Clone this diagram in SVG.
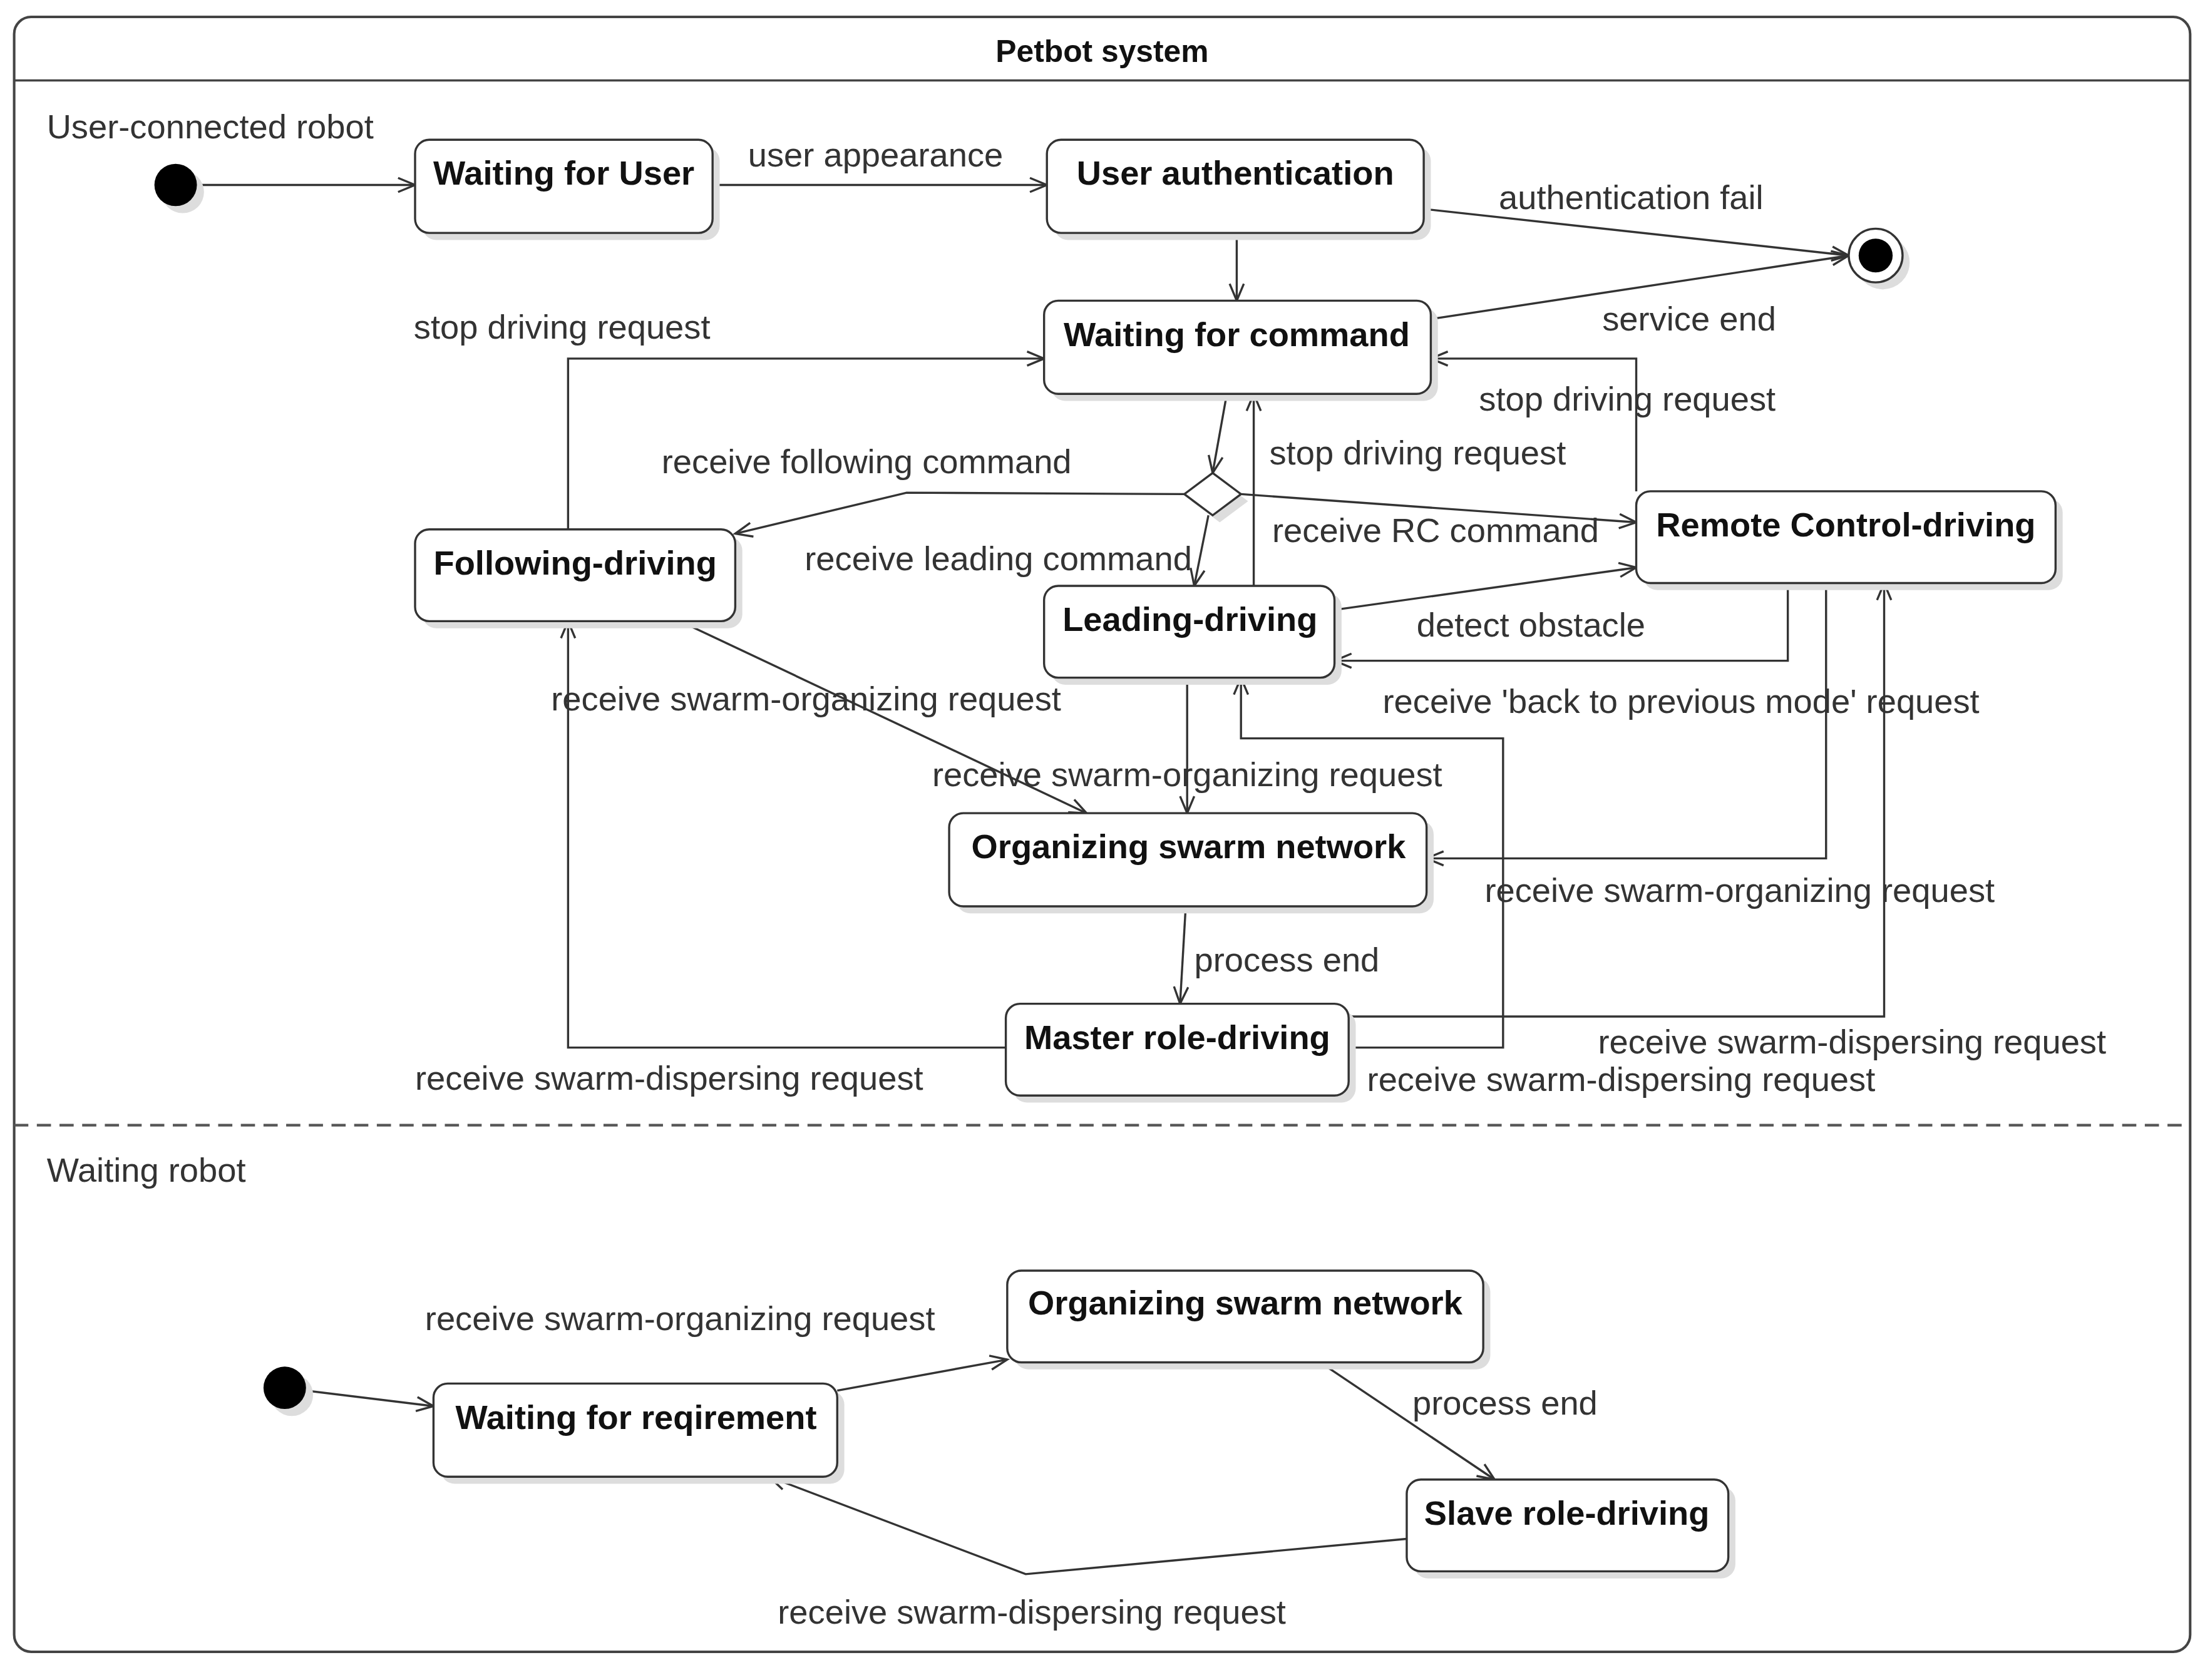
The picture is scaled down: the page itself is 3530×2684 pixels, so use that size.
<svg xmlns="http://www.w3.org/2000/svg" width="3530" height="2684" viewBox="0 0 3530 2684">
<style>
.n{fill:#fff;stroke:#333;stroke-width:1.5}
.sh{fill:#ddd}
.nt{font-family:"Liberation Sans",Arial,sans-serif;font-weight:bold;font-size:24px;fill:#111;text-anchor:middle}
.lb{font-family:"Liberation Sans",Arial,sans-serif;font-size:24px;fill:#333}
.c{fill:none;stroke:#333;stroke-width:1.5;marker-end:url(#a)}
</style>
<defs>
<marker id="a" markerUnits="userSpaceOnUse" markerWidth="16" markerHeight="14" refX="13" refY="6" orient="auto">
<path d="M1,1 L13,6 L1,11" fill="none" stroke="#333" stroke-width="1.5"/>
</marker>
</defs>
<rect width="3530" height="2684" fill="#fff"/>
<g transform="scale(2.2628,2.2555)">
<g id="frame">
<rect x="10" y="12" width="1536" height="1158" rx="12" fill="#fff" stroke="#444" stroke-width="1.8"/>
<line x1="10" y1="57" x2="1546" y2="57" stroke="#444" stroke-width="1.5"/>
<line x1="10" y1="797" x2="1546" y2="797" stroke="#555" stroke-width="1.8" stroke-dasharray="10,6"/>
<text class="nt" x="778" y="44" style="font-size:22px">Petbot system</text>
<text class="lb" x="33" y="98">User-connected robot</text>
<text class="lb" x="33" y="837">Waiting robot</text>
</g>
<g id="connectors">
<path class="c" d="M139,131 L293,131"/>
<path class="c" d="M503,131 L739,131"/>
<path class="c" d="M1005,148 L1305,181"/>
<path class="c" d="M873,165 L873,213"/>
<path class="c" d="M1010,226 L1305,181"/>
<path class="c" d="M401,375 L401,254 L737,254"/>
<path class="c" d="M1155,348 L1155,254 L1010,254"/>
<path class="c" d="M866,279 L856,335"/>
<path class="c" d="M885,415 L885,279"/>
<path class="c" d="M836,350 L640,349 L519,378"/>
<path class="c" d="M853,365 L843,415"/>
<path class="c" d="M876,350 L1155,370"/>
<path class="c" d="M942,432 L1155,402"/>
<path class="c" d="M1262,413 L1262,468 L942,468"/>
<path class="c" d="M480,440 L767,576"/>
<path class="c" d="M838,480 L838,576"/>
<path class="c" d="M1289,413 L1289,608 L1007,608"/>
<path class="c" d="M837,642 L833,711"/>
<path class="c" d="M710,742 L401,742 L401,440"/>
<path class="c" d="M952,720 L1330,720 L1330,413"/>
<path class="c" d="M952,742 L1061,742 L1061,523 L876,523 L876,480"/>
<path class="c" d="M216,985 L306,996"/>
<path class="c" d="M591,985 L711,963"/>
<path class="c" d="M932,965 L1055,1048"/>
<path class="c" d="M993,1090 L724,1115 L543,1046"/>
<text class="lb" x="528" y="118">user appearance</text>
<text class="lb" x="1058" y="148">authentication fail</text>
<text class="lb" x="1131" y="234">service end</text>
<text class="lb" x="292" y="240">stop driving request</text>
<text class="lb" x="1044" y="291">stop driving request</text>
<text class="lb" x="896" y="329">stop driving request</text>
<text class="lb" x="467" y="335">receive following command</text>
<text class="lb" x="568" y="404">receive leading command</text>
<text class="lb" x="898" y="384">receive RC command</text>
<text class="lb" x="1000" y="451">detect obstacle</text>
<text class="lb" x="976" y="505">receive 'back to previous mode' request</text>
<text class="lb" x="389" y="503">receive swarm-organizing request</text>
<text class="lb" x="658" y="557">receive swarm-organizing request</text>
<text class="lb" x="1048" y="639">receive swarm-organizing request</text>
<text class="lb" x="843" y="688">process end</text>
<text class="lb" x="293" y="772">receive swarm-dispersing request</text>
<text class="lb" x="1128" y="746">receive swarm-dispersing request</text>
<text class="lb" x="965" y="773">receive swarm-dispersing request</text>
<text class="lb" x="300" y="942">receive swarm-organizing request</text>
<text class="lb" x="997" y="1002">process end</text>
<text class="lb" x="549" y="1150">receive swarm-dispersing request</text>
</g>
<g id="init1"><circle cx="129" cy="136" r="15" fill="#ddd"/><circle cx="124" cy="131" r="15" fill="#000"/></g>
<g id="final"><circle cx="1329" cy="186" r="19" fill="#ddd"/><circle cx="1324" cy="181" r="19" fill="#fff" stroke="#333" stroke-width="1.5"/><circle cx="1324" cy="181" r="12" fill="#000"/></g>
<g id="init2"><circle cx="206" cy="988" r="15" fill="#ddd"/><circle cx="201" cy="983" r="15" fill="#000"/></g>
<g id="decision"><path d="M861,340 L881,355 L861,370 L841,355 Z" fill="#ddd"/><path d="M856,335 L876,350 L856,365 L836,350 Z" class="n"/></g>
<g id="waitUser"><rect class="sh" x="298" y="104" width="210" height="66" rx="10"/><rect class="n" x="293" y="99" width="210" height="66" rx="10"/><text class="nt" x="398" y="131">Waiting for User</text></g>
<g id="userAuth"><rect class="sh" x="744" y="104" width="266" height="66" rx="10"/><rect class="n" x="739" y="99" width="266" height="66" rx="10"/><text class="nt" x="872" y="131">User authentication</text></g>
<g id="waitCmd"><rect class="sh" x="742" y="218" width="273" height="66" rx="10"/><rect class="n" x="737" y="213" width="273" height="66" rx="10"/><text class="nt" x="873" y="245">Waiting for command</text></g>
<g id="following"><rect class="sh" x="298" y="380" width="226" height="65" rx="10"/><rect class="n" x="293" y="375" width="226" height="65" rx="10"/><text class="nt" x="406" y="407">Following-driving</text></g>
<g id="remote"><rect class="sh" x="1160" y="353" width="296" height="65" rx="10"/><rect class="n" x="1155" y="348" width="296" height="65" rx="10"/><text class="nt" x="1303" y="380">Remote Control-driving</text></g>
<g id="leading"><rect class="sh" x="742" y="420" width="205" height="65" rx="10"/><rect class="n" x="737" y="415" width="205" height="65" rx="10"/><text class="nt" x="840" y="447">Leading-driving</text></g>
<g id="organizing"><rect class="sh" x="675" y="581" width="337" height="66" rx="10"/><rect class="n" x="670" y="576" width="337" height="66" rx="10"/><text class="nt" x="839" y="608">Organizing swarm network</text></g>
<g id="master"><rect class="sh" x="715" y="716" width="242" height="65" rx="10"/><rect class="n" x="710" y="711" width="242" height="65" rx="10"/><text class="nt" x="831" y="743">Master role-driving</text></g>
<g id="waitReq"><rect class="sh" x="311" y="985" width="285" height="66" rx="10"/><rect class="n" x="306" y="980" width="285" height="66" rx="10"/><text class="nt" x="449" y="1012">Waiting for reqirement</text></g>
<g id="organizing2"><rect class="sh" x="716" y="905" width="336" height="65" rx="10"/><rect class="n" x="711" y="900" width="336" height="65" rx="10"/><text class="nt" x="879" y="931">Organizing swarm network</text></g>
<g id="slave"><rect class="sh" x="998" y="1053" width="227" height="65" rx="10"/><rect class="n" x="993" y="1048" width="227" height="65" rx="10"/><text class="nt" x="1106" y="1080">Slave role-driving</text></g>
</g>
</svg>
